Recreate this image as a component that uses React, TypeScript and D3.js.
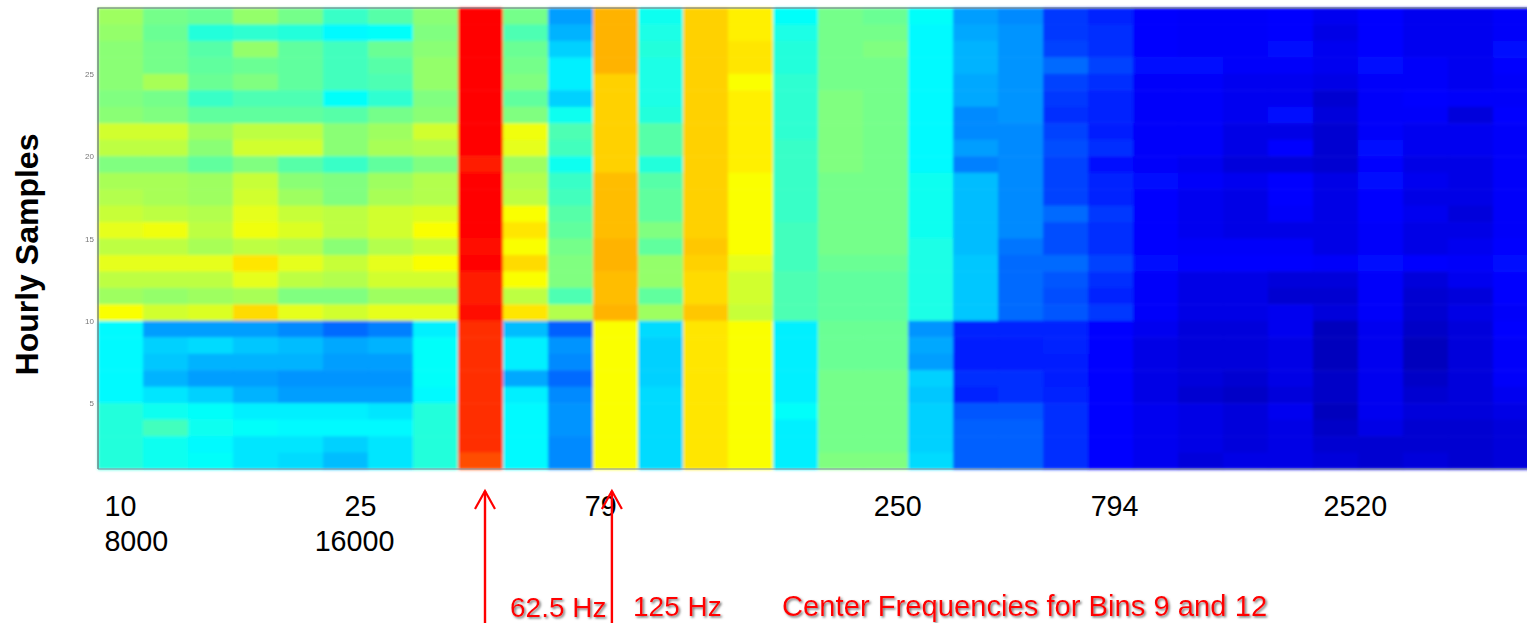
import React, { useEffect, useRef } from "react";
import * as d3 from "d3";

// level of each cell on the jet colour range (0-100), top row first
const hourlyLevels = [
  [53,49,48,52,49,43,46,51,87,49,28,70,39,67,64,38,49,48,38,28,26,18,16,13,12,12,13,11,13,11,11,12],
  [52,48,41,42,41,37,38,50,87,45,30,70,40,67,64,40,49,49,37,29,27,18,17,13,12,12,13,10,13,11,11,12],
  [51,49,46,52,47,44,48,51,87,48,33,70,41,67,65,41,49,50,37,30,27,19,17,13,12,12,14,11,13,11,11,14],
  [51,49,47,48,47,44,46,52,87,49,36,70,40,67,65,41,49,49,37,30,27,23,19,14,14,12,12,11,14,12,11,13],
  [51,54,48,50,47,44,45,52,87,50,36,67,40,67,62,42,49,49,37,29,27,19,17,12,12,11,11,10,12,12,11,12],
  [50,49,43,45,45,38,42,50,87,47,33,67,40,67,64,42,50,49,37,29,27,18,16,12,12,11,11,8,12,13,12,12],
  [51,50,47,47,47,46,49,51,87,50,39,67,41,67,64,42,50,49,37,26,27,17,16,12,12,11,14,9,12,12,9,13],
  [58,58,53,56,56,51,53,58,87,61,45,67,46,67,64,42,50,49,37,26,26,19,15,12,12,10,10,8,12,11,11,12],
  [56,56,51,58,58,51,54,55,87,60,44,67,46,67,64,43,50,49,37,28,26,20,17,12,12,10,13,8,14,11,11,12],
  [50,50,47,50,46,43,47,50,85,53,39,67,41,67,64,43,50,49,37,25,26,19,14,12,11,9,9,8,13,10,10,12],
  [54,54,53,57,51,50,53,55,87,55,43,69,46,67,62,43,49,49,39,31,26,19,16,14,12,11,13,10,14,11,10,12],
  [55,54,53,58,53,50,54,55,87,56,44,69,47,67,62,43,49,49,39,31,26,19,16,13,11,10,13,10,13,10,10,12],
  [57,56,55,60,57,56,58,59,87,62,46,69,47,67,62,43,49,49,39,31,26,23,18,13,11,10,12,10,13,11,9,12],
  [60,61,56,61,59,56,58,62,87,65,47,69,50,67,62,44,49,49,39,31,26,20,17,13,11,10,10,10,12,10,10,12],
  [56,56,54,56,55,51,55,57,86,62,49,70,47,68,62,44,49,49,40,31,24,20,17,13,12,12,12,10,12,10,11,13],
  [60,60,60,65,60,57,60,62,87,66,50,70,52,67,60,44,48,48,40,32,23,23,19,14,13,13,13,12,14,13,12,14],
  [56,56,56,60,56,55,58,58,85,62,50,69,52,66,58,45,47,47,40,32,23,21,17,12,10,10,9,9,12,9,11,13],
  [53,52,53,54,50,50,53,53,85,56,45,69,47,66,58,45,47,47,40,32,23,20,16,12,10,10,8,8,12,8,9,13],
  [62,58,59,66,60,58,60,60,86,65,55,70,53,68,57,45,47,47,40,32,23,21,18,12,10,10,11,9,12,8,10,12],
  [37,28,28,28,26,23,25,36,83,31,22,62,34,65,62,36,48,48,27,16,16,16,13,11,9,9,11,6,11,7,9,13],
  [37,33,34,32,31,29,30,38,83,36,27,62,33,65,62,36,48,48,29,15,15,16,13,10,9,9,10,6,11,6,9,12],
  [37,32,30,30,30,28,28,38,83,36,26,62,33,65,62,36,48,48,28,15,15,15,13,10,9,9,10,6,11,6,9,12],
  [37,30,28,28,27,27,27,38,83,29,23,62,33,65,62,36,49,49,33,17,17,15,13,10,9,8,10,7,11,7,9,12],
  [37,35,33,30,28,28,28,37,83,36,26,62,34,65,62,36,49,49,32,16,17,16,13,10,8,7,9,7,11,8,9,11],
  [41,39,38,36,36,36,35,41,83,37,27,62,34,65,62,38,49,49,33,21,21,17,13,11,10,9,11,6,11,9,9,10],
  [41,44,39,38,37,37,37,41,83,37,27,62,34,65,62,36,49,49,33,22,22,17,13,11,10,9,10,7,10,8,8,9],
  [41,39,37,35,35,33,35,41,83,37,26,62,34,65,62,36,49,49,33,22,22,17,13,11,10,9,10,8,8,8,8,9],
  [41,39,38,35,34,31,35,41,80,37,26,62,34,65,62,36,50,50,34,22,22,17,13,11,9,10,10,9,8,9,8,9],
];

const sampleTicks = [5, 10, 15, 20, 25];
const upperBins = [0.49, 5.82, 11.16, 17.76, 22.58, 27.93];
const upperLabels = ["10", "25", "79", "250", "794", "2520"];
const lowerBins = [0.84, 5.69];
const lowerLabels = ["8000", "16000"];
const arrowBins = [8.6, 11.42];
const hzLabels = ["62.5 Hz", "125 Hz", "Center Frequencies for Bins 9 and 12"];

const width = 1527;
const height = 623;
const font = "'Liberation Sans', Arial, sans-serif";

export default function App() {
  const svgRef = useRef<SVGSVGElement>(null);

  useEffect(() => {
    const svg = d3.select(svgRef.current);
    svg.selectAll("*").remove();

    const left = 98;
    const top = 8;
    const bottom = 469;
    const colWidth = 45;
    const nCols = hourlyLevels[0].length;
    const nRows = hourlyLevels.length;

    const colScale = d3
      .scaleBand<number>()
      .domain(d3.range(nCols))
      .range([left, left + nCols * colWidth]);
    const rowScale = d3.scaleBand<number>().domain(d3.range(nRows)).range([top, bottom]);
    const binScale = d3
      .scaleLinear()
      .domain([0, nCols])
      .range([left, left + nCols * colWidth]);
    const sampleScale = d3.scaleLinear().domain([1, 29]).range([bottom, top]);

    // same stops as matlab's jet
    const jet = d3
      .scaleLinear<string>()
      .domain([0, 12.5, 37.5, 62.5, 87.5, 100])
      .range(["#000080", "#0000ff", "#00ffff", "#ffff00", "#ff0000", "#800000"]);

    const defs = svg.append("defs");
    defs
      .append("filter")
      .attr("id", "soft")
      .attr("x", "-1%")
      .attr("y", "-1%")
      .attr("width", "102%")
      .attr("height", "102%")
      .append("feGaussianBlur")
      .attr("stdDeviation", 1.4);
    defs
      .append("filter")
      .attr("id", "softer")
      .append("feGaussianBlur")
      .attr("stdDeviation", 0.6);
    defs
      .append("filter")
      .attr("id", "shadow")
      .attr("x", "-5%")
      .attr("y", "-20%")
      .attr("width", "110%")
      .attr("height", "140%")
      .append("feDropShadow")
      .attr("dx", 1.5)
      .attr("dy", 1.5)
      .attr("stdDeviation", 1)
      .attr("flood-color", "#777");

    const cells = svg.append("g").attr("filter", "url(#soft)");
    hourlyLevels.forEach((row, r) => {
      cells
        .selectAll(`rect.r${r}`)
        .data(row)
        .enter()
        .append("rect")
        .attr("class", `r${r}`)
        .attr("x", (d, c) => colScale(c))
        .attr("y", rowScale(r))
        .attr("width", colScale.bandwidth() + 0.5)
        .attr("height", rowScale.bandwidth() + 0.5)
        .attr("fill", (d) => jet(d));
    });

    // frame
    const frame = svg.append("g").attr("filter", "url(#softer)");
    frame
      .append("path")
      .attr("d", d3.line()([[left, bottom], [left, top], [width, top]]))
      .attr("fill", "none")
      .attr("stroke", "#5a6a70")
      .attr("stroke-width", 1.2);
    frame
      .append("path")
      .attr("d", d3.line()([[left, bottom], [width, bottom]]))
      .attr("stroke", "#7a8a9a")
      .attr("stroke-width", 1);

    // small blurred y ticks
    const yAxis = d3
      .axisLeft(sampleScale)
      .tickValues(sampleTicks)
      .tickSize(0)
      .tickPadding(4)
      .tickFormat((d) => String(d));
    const yG = svg
      .append("g")
      .attr("transform", `translate(${left}, 0)`)
      .attr("filter", "url(#softer)")
      .call(yAxis);
    yG.select(".domain").remove();
    yG.selectAll("text")
      .style("font-family", font)
      .style("font-size", "8px")
      .attr("fill", "#777");

    const drawBinAxis = (bins: number[], labels: string[], y: number) => {
      const axis = d3
        .axisBottom(binScale)
        .tickValues(bins)
        .tickSize(0)
        .tickPadding(0)
        .tickFormat((d, i) => labels[i]);
      const g = svg.append("g").attr("transform", `translate(0, ${y})`).call(axis);
      g.select(".domain").remove();
      g.selectAll("text")
        .attr("y", 0)
        .attr("dy", 0)
        .style("font-family", font)
        .style("font-size", "28.7px")
        .attr("fill", "#000");
    };
    drawBinAxis(upperBins, upperLabels, 516);
    drawBinAxis(lowerBins, lowerLabels, 551);

    svg
      .append("text")
      .attr("transform", "translate(38, 254.5) rotate(-90)")
      .attr("text-anchor", "middle")
      .style("font-family", font)
      .style("font-size", "32px")
      .style("font-weight", "bold")
      .text("Hourly Samples");

    // arrows
    arrowBins.forEach((bin) => {
      const x = binScale(bin);
      const arrow = svg.append("g").attr("fill", "none").attr("stroke", "#ff0000");
      arrow
        .append("path")
        .attr("d", d3.line()([[x, height], [x, 491]]))
        .attr("stroke-width", 2.4);
      arrow
        .append("path")
        .attr("d", d3.line()([[x - 10, 509], [x, 491], [x + 10, 509]]))
        .attr("stroke-width", 2.2);
    });

    const hzX = [510, 633, 782];
    const hzY = [617, 616, 616];
    const hzSize = [28, 28, 29.2];
    svg
      .append("g")
      .selectAll("text")
      .data(hzLabels)
      .enter()
      .append("text")
      .attr("x", (d, i) => hzX[i])
      .attr("y", (d, i) => hzY[i])
      .attr("filter", "url(#shadow)")
      .style("font-family", font)
      .style("font-size", (d, i) => `${hzSize[i]}px`)
      .attr("fill", "#ff0000")
      .text((d) => d);
  }, []);

  return (
    <svg
      ref={svgRef}
      width={width}
      height={height}
      style={{ position: "absolute", left: 0, top: 0, background: "#fff" }}
    ></svg>
  );
}
